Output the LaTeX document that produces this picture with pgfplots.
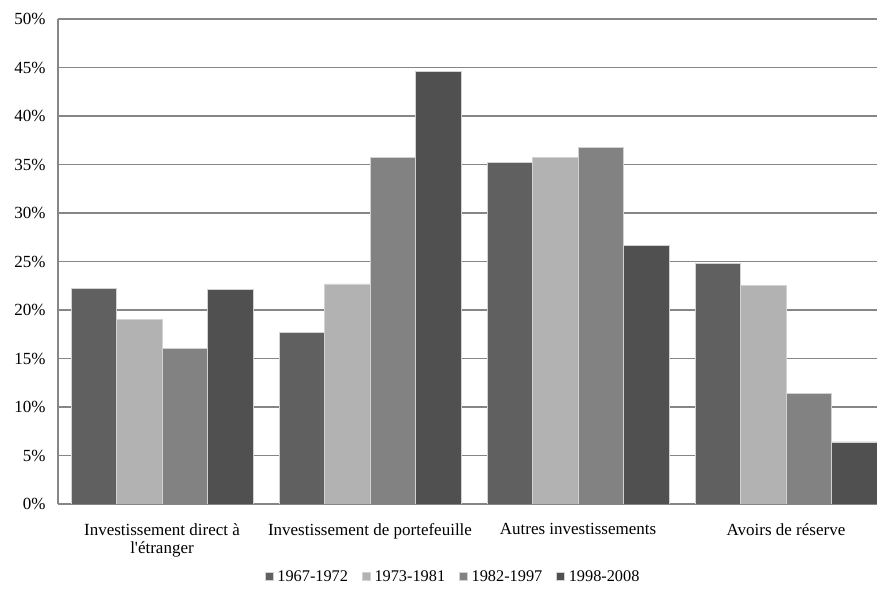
\documentclass[border=0pt]{standalone}
\usepackage{pgfplots}
\pgfplotsset{compat=1.18}
\usepackage{fontspec}
\setmainfont{Liberation Serif}[Ligatures=TeXOff]
\definecolor{cA}{HTML}{606060}
\definecolor{cB}{HTML}{B2B2B2}
\definecolor{cC}{HTML}{828282}
\definecolor{cD}{HTML}{505050}
\definecolor{gridc}{HTML}{868686}
\begin{document}
\begin{tikzpicture}[x=1pt,y=1pt]
\useasboundingbox (0,0) rectangle (877,593);
\begin{axis}[
  at={(58pt,89pt)}, anchor=south west,
  scale only axis, width=819pt, height=485pt,
  xmin=-0.5, xmax=3.4375, ymin=0, ymax=50,
  enlargelimits=false,
  ybar=0pt, bar width=45.5pt,
  axis x line*=bottom, axis y line*=left,
  axis line style={-, draw=gridc, line width=1.3pt},
  ymajorgrids, grid style={draw=gridc, line width=1.3pt},
  ytick={0,5,...,50},
  yticklabel={\pgfmathprintnumber{\tick}\%},
  xtick={0,1,2,3},
  xticklabels={{Investissement direct à\\l'étranger},{Investissement de portefeuille},{Autres investissements},{Avoirs de réserve}},
  major tick length=0pt,
  tick style={draw=none},
  /pgf/number format/assume math mode=true,
  tick label style={font=\fontsize{17}{18}\selectfont},
  xticklabel style={align=center, anchor=north, yshift=-16pt},
  yticklabel style={anchor=east, xshift=-9pt},
  legend columns=4,
  legend style={at={(0.4825,-0.1505)}, anchor=center, draw=none,
    font=\fontsize{16.3}{18}\selectfont,
    /tikz/every odd column/.append style={column sep=2pt},
    /tikz/every even column/.append style={column sep=12pt}},
  legend image code/.code={\fill[#1] (0pt,-3.5pt) rectangle (8pt,4.5pt);},
  every axis plot/.append style={draw=white!65!gray, line width=0.5pt},
]
\addplot[fill=cA] coordinates {(0,22.2) (1,17.7) (2,35.2) (3,24.8)};
\addplot[fill=cB] coordinates {(0,19.0) (1,22.7) (2,35.7) (3,22.5)};
\addplot[fill=cC] coordinates {(0,16.05) (1,35.7) (2,36.8) (3,11.4)};
\addplot[fill=cD] coordinates {(0,22.1) (1,44.6) (2,26.7) (3,6.4)};
\legend{1967-1972,1973-1981,1982-1997,1998-2008}
\end{axis}
\end{tikzpicture}
\end{document}
